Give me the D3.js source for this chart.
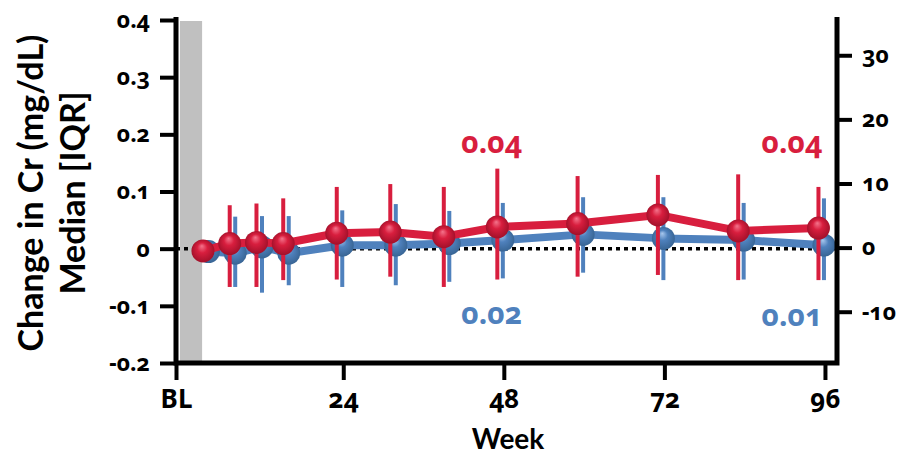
<!DOCTYPE html>
<html>
<head>
<meta charset="utf-8">
<script src="https://cdn.jsdelivr.net/npm/d3@7"></script>
<style>
  body { margin: 0; background: #fff; }
  svg text { font-family: Lato, "Open Sans", sans-serif; font-weight: 700; }
  svg text.num { font-family: "Noto Sans", "Open Sans", sans-serif; font-weight: 700;
      font-variant-numeric: oldstyle-nums; font-feature-settings: "onum" 1; }
</style>
</head>
<body>
<script>
// data
const weeks = [4, 8, 12, 16, 24, 32, 40, 48, 60, 72, 84, 96];
const redMedian = [-0.004, 0.009, 0.011, 0.009, 0.027, 0.029, 0.021, 0.038, 0.044, 0.059, 0.031, 0.036];
const redQ1 = [null, -0.067, -0.067, -0.055, -0.054, -0.049, -0.067, -0.054, -0.049, -0.046, -0.055, -0.055];
const redQ3 = [null, 0.076, 0.079, 0.088, 0.108, 0.113, 0.108, 0.140, 0.127, 0.129, 0.130, 0.108];
const blueMedian = [-0.005, -0.008, 0.003, -0.008, 0.006, 0.006, 0.009, 0.015, 0.025, 0.018, 0.015, 0.006];
const blueQ1 = [null, -0.067, -0.077, -0.064, -0.067, -0.064, -0.058, -0.052, -0.042, -0.055, -0.054, -0.055];
const blueQ3 = [null, 0.056, 0.057, 0.057, 0.067, 0.078, 0.066, 0.080, 0.090, 0.090, 0.080, 0.088];

const xTicks = [-1, 24, 48, 72, 96];
const xTickLabels = ['BL', '24', '48', '72', '96'];
const yTicks = [-0.2, -0.1, 0, 0.1, 0.2, 0.3, 0.4];
const yTickLabels = ['-0.2', '-0.1', '0', '0.1', '0.2', '0.3', '0.4'];
const y2Ticks = [-10, 0, 10, 20, 30];
const y2TickLabels = ['-10', '0', '10', '20', '30'];

const annotWeeks = [48, 96];
const redAnnot = ['0.04', '0.04'];
const blueAnnot = ['0.02', '0.01'];

const RED = '#d81e3e';
const BLUE = '#4f81bd';

const width = 902, height = 455;
const plotLeft = 176, plotRight = 837, plotTop = 20, plotBottom = 363;

const svg = d3.select('body').append('svg')
    .attr('width', width)
    .attr('height', height);

const x = d3.scaleLinear().domain([-1, 97.8]).range([plotLeft, plotRight]);
const y = d3.scaleLinear().domain([-0.2, 0.4]).range([plotBottom, plotTop]);
const y2 = d3.scaleLinear().domain([-18, 35.5]).range([plotBottom, plotTop]);

// sphere gradients
const defs = svg.append('defs');
function sphere(id, light, mid, dark) {
    const g = defs.append('radialGradient').attr('id', id)
        .attr('cx', '50%').attr('cy', '50%').attr('r', '55%')
        .attr('fx', '45%').attr('fy', '28%');
    g.append('stop').attr('offset', '0%').attr('stop-color', light);
    g.append('stop').attr('offset', '40%').attr('stop-color', mid);
    g.append('stop').attr('offset', '100%').attr('stop-color', dark);
}
sphere('redBall', '#f4748c', RED, '#9c0f28');
sphere('blueBall', '#a9c8ee', BLUE, '#35618f');

// baseline shaded band
svg.append('rect')
    .attr('x', x(-0.4)).attr('y', plotTop + 1)
    .attr('width', x(2.9) - x(-0.4))
    .attr('height', plotBottom - plotTop - 1)
    .attr('fill', '#c0c0c0');

// zero reference line
svg.append('line')
    .attr('x1', plotLeft).attr('x2', plotRight)
    .attr('y1', y(0)).attr('y2', y(0))
    .attr('stroke', '#000')
    .attr('stroke-width', 3.5)
    .attr('stroke-dasharray', '4,4');

function drawSeries(median, q1, q3, color, ball, dx) {
    const pts = weeks.map((w, i) => ({w, m: median[i], lo: q1[i], hi: q3[i]}));
    const line = d3.line().x(d => x(d.w) + dx).y(d => y(d.m));
    svg.append('path').datum(pts)
        .attr('d', line)
        .attr('fill', 'none')
        .attr('stroke', color)
        .attr('stroke-width', 8)
        .attr('stroke-linejoin', 'round');
    svg.append('g').selectAll('line')
        .data(pts.filter(d => d.lo !== null))
        .join('line')
        .attr('x1', d => x(d.w) + dx).attr('x2', d => x(d.w) + dx)
        .attr('y1', d => y(d.lo)).attr('y2', d => y(d.hi))
        .attr('stroke', color)
        .attr('stroke-width', 4);
    svg.append('g').selectAll('circle')
        .data(pts)
        .join('circle')
        .attr('cx', d => x(d.w) + dx)
        .attr('cy', d => y(d.m))
        .attr('r', 11.5)
        .attr('fill', `url(#${ball})`);
}
drawSeries(blueMedian, blueQ1, blueQ3, BLUE, 'blueBall', -1);
drawSeries(redMedian, redQ1, redQ3, RED, 'redBall', -6.5);

// axes
function styleAxis(g) {
    g.select('.domain').remove();
    g.selectAll('.tick line').attr('stroke', '#000').attr('stroke-width', 4);
    g.selectAll('.tick text').attr('fill', '#000');
}

svg.append('g')
    .attr('transform', `translate(${plotLeft},0)`)
    .call(d3.axisLeft(y).tickValues(yTicks).tickSize(16).tickPadding(10)
        .tickFormat((d, i) => yTickLabels[i]))
    .call(styleAxis)
    .selectAll('text').attr('class', 'num').attr('font-size', 23);

svg.append('g')
    .attr('transform', `translate(${plotRight},0)`)
    .call(d3.axisRight(y2).tickValues(y2Ticks).tickSize(15).tickPadding(10)
        .tickFormat((d, i) => y2TickLabels[i]))
    .call(styleAxis)
    .selectAll('text').attr('class', 'num').attr('font-size', 23);

svg.append('g')
    .attr('transform', `translate(0,${plotBottom})`)
    .call(d3.axisBottom(x).tickValues(xTicks).tickSize(17).tickPadding(10)
        .tickFormat((d, i) => xTickLabels[i]))
    .call(styleAxis)
    .selectAll('text').attr('class', 'num').attr('font-size', 26);

// axis frame lines
svg.append('path')
    .attr('d', `M${plotLeft},${plotTop - 3}V${plotBottom}H${plotRight}V${plotTop - 3}`)
    .attr('fill', 'none')
    .attr('stroke', '#000')
    .attr('stroke-width', 5);

// axis titles
svg.append('text')
    .attr('transform', `translate(43,193) rotate(-90)`)
    .attr('text-anchor', 'middle')
    .attr('font-size', 34)
    .text('Change in Cr (mg/dL)');
svg.append('text')
    .attr('transform', `translate(85,193) rotate(-90)`)
    .attr('text-anchor', 'middle')
    .attr('font-size', 34)
    .text('Median [IQR]');
svg.append('text')
    .attr('x', 508).attr('y', 449)
    .attr('text-anchor', 'middle')
    .attr('font-size', 28)
    .text('Week');

// value annotations
const annotDx = [-12, -33];
svg.selectAll('.ann-red')
    .data(annotWeeks)
    .join('text')
    .attr('class', 'ann-red num')
    .attr('x', (d, i) => x(d) + annotDx[i])
    .attr('y', 153)
    .attr('text-anchor', 'middle')
    .attr('font-size', 30)
    .attr('fill', RED)
    .text((d, i) => redAnnot[i]);
svg.selectAll('.ann-blue')
    .data(annotWeeks)
    .join('text')
    .attr('class', 'ann-blue num')
    .attr('x', (d, i) => x(d) + annotDx[i])
    .attr('y', (d, i) => i === 0 ? 324 : 326)
    .attr('text-anchor', 'middle')
    .attr('font-size', 30)
    .attr('fill', BLUE)
    .text((d, i) => blueAnnot[i]);
</script>
</body>
</html>
